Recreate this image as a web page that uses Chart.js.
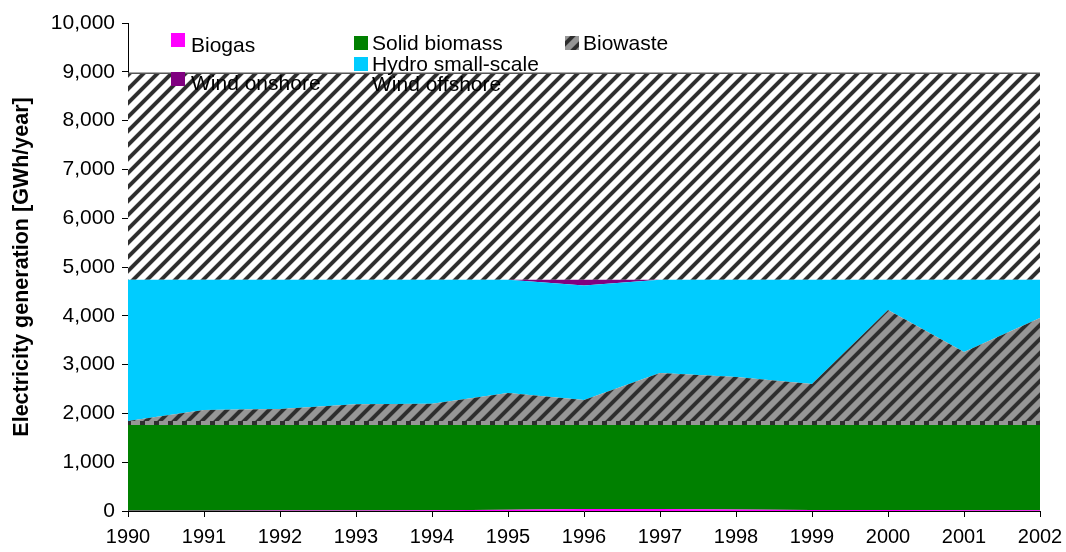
<!DOCTYPE html>
<html>
<head>
<meta charset="utf-8">
<script src="https://cdn.jsdelivr.net/npm/chart.js@4.4.1/dist/chart.umd.min.js"></script>
<style>
  html, body { margin: 0; padding: 0; background: #fff; }
  canvas { display: block; }
</style>
</head>
<body>
<canvas id="chart" width="1066" height="552"></canvas>
<script>
// Electricity generation by renewable source, GWh/year (stacked)
const years = ['1990','1991','1992','1993','1994','1995','1996','1997','1998','1999','2000','2001','2002'];
const biogas       = [5, 5, 8, 10, 15, 25, 40, 40, 30, 20, 20, 15, 15];
const solidBiomass = [1798, 1798, 1795, 1793, 1788, 1778, 1763, 1763, 1773, 1783, 1783, 1788, 1788];
const biowaste     = [41, 267, 287, 387, 397, 615, 472, 1025, 942, 797, 2316, 1455, 2152];
const hydroSmall   = [2896, 2670, 2650, 2550, 2540, 2322, 2345, 1912, 1995, 2140, 621, 1482, 785];
const windOnshore  = [0, 0, 0, 0, 0, 0, 120, 0, 0, 0, 0, 0, 0];
const windOffshore = [4230, 4230, 4230, 4230, 4230, 4230, 4230, 4230, 4230, 4230, 4230, 4230, 4230];
const yTicks = [0, 1000, 2000, 3000, 4000, 5000, 6000, 7000, 8000, 9000, 10000];

const FONT = '"Liberation Sans", Arial, sans-serif';

// Diagonal "/" hatch tile with soft stripe edges
function hatch(bg, fg, period, halfWidth) {
  const c = document.createElement('canvas');
  c.width = c.height = period;
  const ctx = c.getContext('2d');
  const img = ctx.createImageData(period, period);
  for (let y = 0; y < period; y++) {
    for (let x = 0; x < period; x++) {
      const u = (x + y + 1) % period;
      const center = period / 2;
      let d = Math.abs(u - center);
      d = Math.min(d, period - d);
      const t = Math.max(0, Math.min(1, (halfWidth + 0.8 - d) / 1.6));
      const i = (y * period + x) * 4;
      for (let k = 0; k < 3; k++) img.data[i + k] = Math.round(bg[k] * (1 - t) + fg[k] * t);
      img.data[i + 3] = 255;
    }
  }
  ctx.putImageData(img, 0, 0);
  return ctx.createPattern(c, 'repeat');
}

// Vertical dash bands used for the edge above the solid biomass area
function bands(light, dark, period, darkWidth) {
  const c = document.createElement('canvas');
  c.width = period; c.height = 4;
  const ctx = c.getContext('2d');
  ctx.fillStyle = light; ctx.fillRect(0, 0, period, 4);
  ctx.fillStyle = dark; ctx.fillRect(0, 0, darkWidth, 4);
  return ctx.createPattern(c, 'repeat');
}

const offshoreHatch = hatch([255, 255, 255], [45, 45, 45], 14, 2.7);
const biowasteHatch = hatch([150, 150, 150], [45, 45, 45], 14, 2.7);
const edgeBands = bands('#969696', '#2e2e2e', 14, 5);

const NONE = 'rgba(0,0,0,0)';

// Legend entries: dataset index, marker box and text anchor
const legendLayout = [
  { ds: 0, mx: 171, my: 33, tx: 191, ty: 52 },
  { ds: 1, mx: 354, my: 36, tx: 372, ty: 50 },
  { ds: 2, mx: 565, my: 36, tx: 583, ty: 50 },
  { ds: 3, mx: 354, my: 57, tx: 372, ty: 71 },
  { ds: 4, mx: 171, my: 72, tx: 191, ty: 90 },
  { ds: 5, mx: 354, my: 79, tx: 372, ty: 91 }
];

const legendPlugin = {
  id: 'placedLegend',
  afterDatasetsDraw(chart) {
    const ctx = chart.ctx;
    ctx.save();
    ctx.font = '21px ' + FONT;
    ctx.textBaseline = 'alphabetic';
    ctx.textAlign = 'left';
    legendLayout.forEach(item => {
      const ds = chart.data.datasets[item.ds];
      ctx.fillStyle = ds.backgroundColor;
      ctx.fillRect(item.mx, item.my, 14, 14);
      ctx.fillStyle = '#000';
      ctx.fillText(ds.label, item.tx, item.ty);
    });
    ctx.restore();
  }
};

Chart.defaults.font.family = FONT;
Chart.defaults.color = '#000';

new Chart(document.getElementById('chart'), {
  type: 'line',
  data: {
    labels: years,
    datasets: [
      { label: 'Biogas', data: biogas, backgroundColor: '#FF00FF', borderColor: NONE, borderWidth: 0, fill: 'origin' },
      { label: 'Solid biomass', data: solidBiomass, backgroundColor: '#008000', borderColor: edgeBands, borderWidth: 4, fill: '-1' },
      { label: 'Biowaste', data: biowaste, backgroundColor: biowasteHatch, borderColor: NONE, borderWidth: 0, fill: '-1' },
      { label: 'Hydro small-scale', data: hydroSmall, backgroundColor: '#00CCFF', borderColor: NONE, borderWidth: 0, fill: '-1' },
      { label: 'Wind onshore', data: windOnshore, backgroundColor: '#800080', borderColor: NONE, borderWidth: 0, fill: '-1' },
      { label: 'Wind offshore', data: windOffshore, backgroundColor: offshoreHatch, borderColor: '#555', borderWidth: 1.5, fill: '-1' }
    ]
  },
  options: {
    responsive: false,
    animation: false,
    layout: { padding: { top: 23, right: 26, left: 0, bottom: 0 } },
    elements: { point: { radius: 0, hoverRadius: 0 }, line: { tension: 0 } },
    plugins: { legend: { display: false }, tooltip: { enabled: false } },
    scales: {
      x: {
        type: 'category',
        offset: false,
        border: { color: '#000', width: 1 },
        grid: { drawOnChartArea: false, drawTicks: true, tickLength: 6, color: '#000' },
        ticks: { font: { size: 20 }, padding: 8, maxRotation: 0, autoSkip: false },
        afterFit(scale) {
          scale.height = 41;
          scale.paddingLeft = 0;
          scale.paddingRight = 0;
        }
      },
      y: {
        stacked: true,
        min: 0,
        max: 10000,
        border: { color: '#000', width: 1 },
        grid: { drawOnChartArea: false, drawTicks: true, tickLength: 6, color: '#000' },
        afterBuildTicks(scale) { scale.ticks = yTicks.map(v => ({ value: v })); },
        ticks: {
          font: { size: 21 },
          padding: 7,
          callback: v => Number(v).toLocaleString('en-US')
        },
        title: {
          display: true,
          text: 'Electricity generation [GWh/year]',
          font: { size: 21.5, weight: 'bold' },
          padding: { top: 9, bottom: 0 }
        },
        afterFit(scale) {
          scale.width = 128;
          scale.paddingTop = 0;
          scale.paddingBottom = 0;
        }
      }
    }
  },
  plugins: [legendPlugin]
});
</script>
</body>
</html>
